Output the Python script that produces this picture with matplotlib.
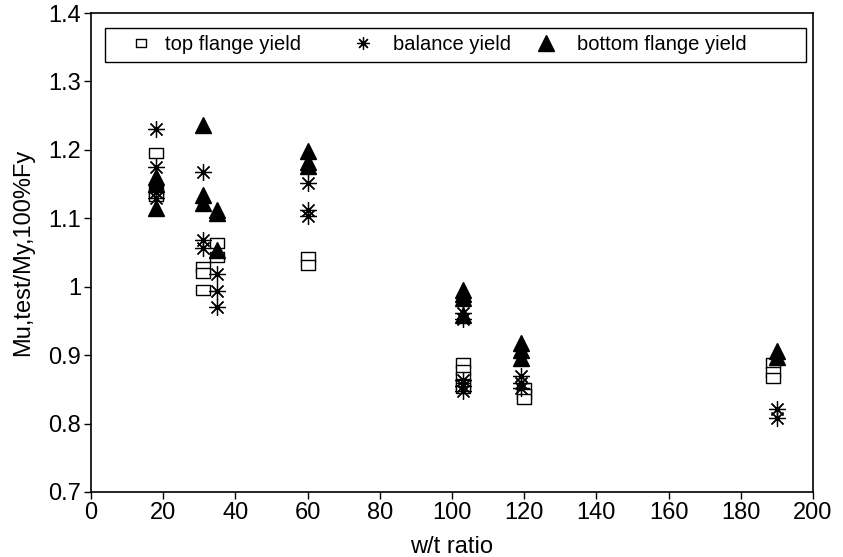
import matplotlib
matplotlib.use("Agg")
import matplotlib.pyplot as plt
from matplotlib.path import Path
from matplotlib.patches import Rectangle
from matplotlib.legend import Legend

plt.rcParams['font.family'] = ['Liberation Sans', 'DejaVu Sans']

# top flange yield (hollow squares)
top_x = [18, 18, 18, 31, 31, 31, 35, 35, 60, 60,
         103, 103, 103, 103, 103, 120, 120, 120, 189, 189, 189]
top_y = [1.195, 1.14, 1.132, 1.029, 1.020, 0.995, 1.064, 1.044, 1.043, 1.032,
         0.888, 0.878, 0.868, 0.858, 0.852, 0.852, 0.843, 0.836, 0.889, 0.876, 0.866]

# balance yield (asterisks)
bal_x = [18, 18, 18, 18, 31, 31, 31, 35, 35, 35, 60, 60, 60,
         103, 103, 103, 103, 103, 119, 119, 119, 190, 190]
bal_y = [1.231, 1.175, 1.138, 1.130, 1.168, 1.068, 1.056, 1.018, 0.994, 0.971, 1.152, 1.112, 1.103,
         0.962, 0.953, 0.864, 0.855, 0.848, 0.869, 0.860, 0.852, 0.821, 0.808]

# bottom flange yield (filled triangles)
bot_x = [18, 18, 18, 31, 31, 31, 35, 35, 35, 60, 60, 60,
         103, 103, 103, 103, 119, 119, 119, 190, 190]
bot_y = [1.160, 1.150, 1.115, 1.236, 1.134, 1.122, 1.112, 1.108, 1.054, 1.198, 1.182, 1.176,
         0.995, 0.989, 0.983, 0.958, 0.918, 0.908, 0.896, 0.906, 0.897]

x_ticks = [0, 20, 40, 60, 80, 100, 120, 140, 160, 180, 200]
y_ticks = [0.7, 0.8, 0.9, 1.0, 1.1, 1.2, 1.3, 1.4]
y_labels = ['0.7', '0.8', '0.9', '1', '1.1', '1.2', '1.3', '1.4']

rect = Path([(-1.3, -1), (1.3, -1), (1.3, 1), (-1.3, 1), (-1.3, -1)],
            [Path.MOVETO, Path.LINETO, Path.LINETO, Path.LINETO, Path.CLOSEPOLY])

W, H = 843, 557
L, R, T, B = 91, 813, 13, 492
fig = plt.figure(figsize=(W / 100, H / 100), dpi=100)
ax = fig.add_axes([L / W, (H - B) / H, (R - L) / W, (B - T) / H])

h1, = ax.plot(top_x, top_y, linestyle='none', marker=rect, markersize=10,
              markerfacecolor='white', markeredgecolor='black', markeredgewidth=1.0,
              label='top flange yield')
h2, = ax.plot(bal_x, bal_y, linestyle='none', marker=(8, 2, 0), markersize=12,
              markeredgecolor='black', markeredgewidth=0.9, label='balance yield')
h3, = ax.plot(bot_x, bot_y, linestyle='none', marker='^', markersize=11,
              markerfacecolor='black', markeredgecolor='black', label='bottom flange yield')

ax.set_xlim(0, 200)
ax.set_ylim(0.7, 1.4)
ax.set_xticks(x_ticks)
ax.set_yticks(y_ticks)
ax.set_yticklabels(y_labels)
ax.tick_params(direction='out', length=5, width=1, labelsize=17, colors='black', pad=2)
for s in ax.spines.values():
    s.set_linewidth(1.2)
ax.set_xlabel('w/t ratio', fontsize=17, labelpad=9)
ax.set_ylabel('Mu,test/My,100%Fy', fontsize=17, labelpad=10)


def px2ax(px, py):
    return (px - L) / (R - L), (B - py) / (B - T)


# legend frame
x0, y0 = px2ax(105, 62)
x1, y1 = px2ax(806, 28)
ax.add_patch(Rectangle((x0, y0), x1 - x0, y1 - y0, transform=ax.transAxes,
                       facecolor='white', edgecolor='black', linewidth=1.0, zorder=5))

# three legend entries placed individually
fs = 14.5
fs_px = fs * 100 / 72
marker_centers = [141, 363, 546]
text_pads = [0.7, 0.98, 1.03]
handles = [h1, h2, h3]
sizes = [7, 9, 12]
for hc, pad, hd, ms in zip(marker_centers, text_pads, handles, sizes):
    start_px = hc - 0.5 * fs_px
    ax_x, ax_y = px2ax(start_px, 45)
    lg = Legend(ax, [hd], [hd.get_label()], loc='center left',
                bbox_to_anchor=(ax_x, ax_y), bbox_transform=ax.transAxes,
                frameon=False, fontsize=fs, handlelength=1.0, handletextpad=pad,
                borderpad=0, borderaxespad=0, markerscale=ms / hd.get_markersize())
    lg.set_zorder(6)
    ax.add_artist(lg)

fig.savefig('out.png', dpi=100)
